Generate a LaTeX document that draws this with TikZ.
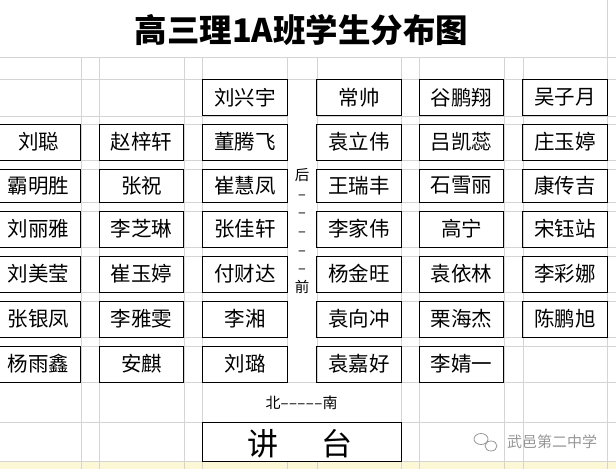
\documentclass[tikz,border=0pt]{standalone}
\usepackage{fontspec}
\setmainfont{Noto Sans CJK SC}
\usetikzlibrary{positioning}
\definecolor{gridgray}{RGB}{212,212,212}
\definecolor{rowyellow}{RGB}{252,248,214}
\definecolor{markgray}{RGB}{150,150,150}
\newcommand{\dashmark}{\makebox[8.4pt]{\textendash}}

\begin{document}
\begin{tikzpicture}[x=1pt,y=-1pt,
    seat/.style={draw, line width=1pt, minimum width=84.5pt, minimum height=36pt,
      inner sep=0pt, font=\fontsize{20.5}{20.5}\selectfont},
    cell/.style={gridgray, line width=0.8pt}]
  \useasboundingbox (0,0) rectangle (616,469);
  \clip (0,0) rectangle (616,469);

    % Sheet grid
    \fill[rowyellow] (0,461) rectangle (616,469);
    \foreach \y in {57,79,382,422,461} \draw[cell] (0,\y) -- (616,\y);
    \foreach \y in {116,124,160,169,202,211,247,256,292,301,337,346}
      \draw[cell] (0,\y) -- (287,\y) (317,\y) -- (616,\y);
    \foreach \x in {81,99,184,202,401,419,504,523} \draw[cell] (\x,57) -- (\x,469);
    \foreach \x in {287,317} \draw[cell] (\x,57) -- (\x,382) (\x,461) -- (\x,469);
    \draw[cell] (607,0) -- (607,469);

    % Title
    \node[font=\fontsize{32.5}{32.5}\selectfont\bfseries] (title) at (301.5,30) {高三理1A班学生分布图};

    % Define seats
    \node[seat] (r0c3) at (245,97.5)   {刘兴宇};
    \node[seat] (r0c4) at (359,97.5)   {常帅};
    \node[seat] (r0c5) at (461.5,97.5) {谷鹏翔};
    \node[seat] (r0c6) at (565,97.5)   {吴子月};

    \node[seat] (r1c1) at (38.5,142)  {刘聪};
    \node[seat] (r1c2) at (141.5,142) {赵梓轩};
    \node[seat] (r1c3) at (245,142)   {董腾飞};
    \node[seat] (r1c4) at (359,142)   {袁立伟};
    \node[seat] (r1c5) at (461.5,142) {吕凯蕊};
    \node[seat] (r1c6) at (565,142)   {庄玉婷};

    \node[seat, minimum height=33pt] (r2c1) at (38.5,185.5)  {霸明胜};
    \node[seat, minimum height=33pt] (r2c2) at (141.5,185.5) {张祝};
    \node[seat, minimum height=33pt] (r2c3) at (245,185.5)   {崔慧凤};
    \node[seat, minimum height=33pt] (r2c4) at (359,185.5)   {王瑞丰};
    \node[seat, minimum height=33pt] (r2c5) at (461.5,185.5) {石雪丽};
    \node[seat, minimum height=33pt] (r2c6) at (565,185.5)   {康传吉};

    \node[seat] (r3c1) at (38.5,229)  {刘丽雅};
    \node[seat] (r3c2) at (141.5,229) {李芝琳};
    \node[seat] (r3c3) at (245,229)   {张佳轩};
    \node[seat] (r3c4) at (359,229)   {李家伟};
    \node[seat] (r3c5) at (461.5,229) {高宁};
    \node[seat] (r3c6) at (565,229)   {宋钰站};

    \node[seat] (r4c1) at (38.5,274)  {刘美莹};
    \node[seat] (r4c2) at (141.5,274) {崔玉婷};
    \node[seat] (r4c3) at (245,274)   {付财达};
    \node[seat] (r4c4) at (359,274)   {杨金旺};
    \node[seat] (r4c5) at (461.5,274) {袁依林};
    \node[seat] (r4c6) at (565,274)   {李彩娜};

    \node[seat] (r5c1) at (38.5,319)  {张银凤};
    \node[seat] (r5c2) at (141.5,319) {李雅雯};
    \node[seat] (r5c3) at (245,319)   {李湘};
    \node[seat] (r5c4) at (359,319)   {袁向冲};
    \node[seat] (r5c5) at (461.5,319) {栗海杰};
    \node[seat] (r5c6) at (565,319)   {陈鹏旭};

    \node[seat] (r6c1) at (38.5,364)  {杨雨鑫};
    \node[seat] (r6c2) at (141.5,364) {安麒};
    \node[seat] (r6c3) at (245,364)   {刘璐};
    \node[seat] (r6c4) at (359,364)   {袁嘉好};
    \node[seat] (r6c5) at (461.5,364) {李婧一};

    % Directions
    \node[font=\fontsize{14.5}{18.7}\selectfont, align=center, inner sep=0pt] (aisle) at (302,231)
      {后\\\textendash\\\textendash\\\textendash\\\textendash\\\textendash\\前};
    \node[font=\fontsize{15}{15}\selectfont] (compass) at (301.5,403)
      {北\dashmark\dashmark\dashmark\dashmark\dashmark 南};

    % Podium
    \node[draw, line width=1pt, minimum width=199pt, minimum height=39pt] (podium) at (301.5,441.5) {};
    \node[font=\fontsize{31}{31}\selectfont, inner sep=0pt] (podiumtext) at (300,444) {讲\hspace{44pt}台};

    % Watermark
    \draw[markgray, line width=0.8pt] (481,439) ellipse (7 and 5.5) (491,446) ellipse (6 and 5);
    \node[markgray, font=\fontsize{15}{15}\selectfont, anchor=west, inner sep=0pt] (mark) at (507,442) {武邑第二中学};
\end{tikzpicture}
\end{document}
